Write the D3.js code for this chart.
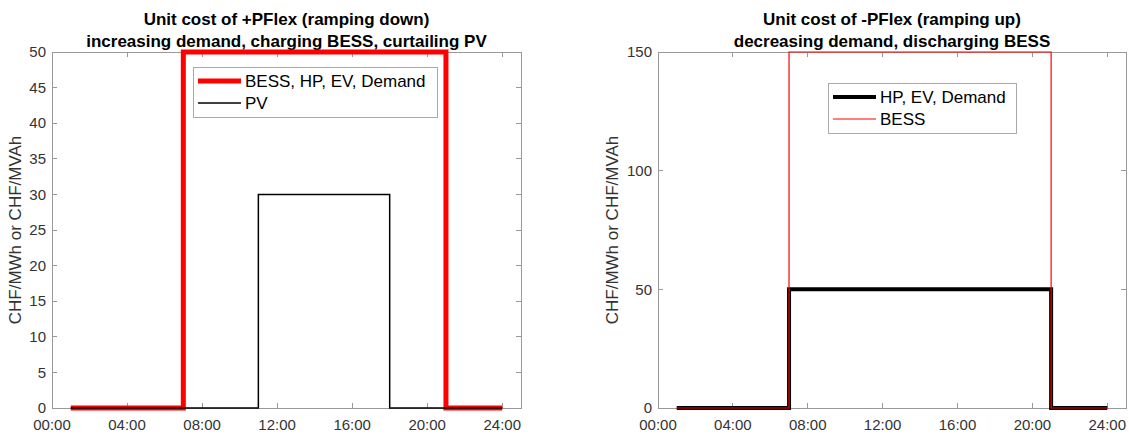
<!DOCTYPE html>
<html>
<head>
<meta charset="utf-8">
<script src="https://cdn.jsdelivr.net/npm/d3@7/dist/d3.min.js"></script>
<style>
  body { margin: 0; background: #fff; }
  svg { font-family: "Liberation Sans", Arial, sans-serif; }
</style>
</head>
<body>
<svg id="chart" width="1129" height="440"></svg>
<script>
// hourly steps, value held from hour h to h+1
var hours = [1, 2, 3, 4, 5, 6, 7, 8, 9, 10, 11, 12, 13, 14, 15, 16, 17, 18, 19, 20, 21, 22, 23, 24];

var posFlexBess = [0, 0, 0, 0, 0, 0, 50, 50, 50, 50, 50, 50, 50, 50, 50, 50, 50, 50, 50, 50, 0, 0, 0, 0];
var posFlexPV   = [0, 0, 0, 0, 0, 0, 0, 0, 0, 0, 30, 30, 30, 30, 30, 30, 30, 0, 0, 0, 0, 0, 0, 0];

var negFlexDemand = [0, 0, 0, 0, 0, 0, 50, 50, 50, 50, 50, 50, 50, 50, 50, 50, 50, 50, 50, 50, 0, 0, 0, 0];
var negFlexBess   = [0, 0, 0, 0, 0, 0, 150, 150, 150, 150, 150, 150, 150, 150, 150, 150, 150, 150, 150, 150, 0, 0, 0, 0];

var xTicks = [0, 4, 8, 12, 16, 20, 24];
var xTickLabels = ['00:00', '04:00', '08:00', '12:00', '16:00', '20:00', '24:00'];
var leftYTicks = [0, 5, 10, 15, 20, 25, 30, 35, 40, 45, 50];
var rightYTicks = [0, 50, 100, 150];

var yLabel = 'CHF/MWh or CHF/MVAh';
var axisGray = '#999';
var textGray = '#333';

var svg = d3.select('#chart');

function panel(opt) {
    var x = d3.scaleLinear().domain([0, 25]).range([opt.left, opt.right]);
    var y = d3.scaleLinear().domain([0, opt.yMax]).range([408, 52]);
    var g = svg.append('g');

    // box
    g.append('rect')
        .attr('x', x(0)).attr('y', y(opt.yMax))
        .attr('width', x(25) - x(0)).attr('height', y(0) - y(opt.yMax))
        .attr('fill', 'none').attr('stroke', axisGray).attr('shape-rendering', 'crispEdges');

    // ticks inside, on all four sides
    var tl = 5;
    xTicks.forEach(function (t) {
        g.append('line').attr('x1', x(t)).attr('x2', x(t)).attr('y1', y(0)).attr('y2', y(0) - tl)
            .attr('stroke', axisGray).attr('shape-rendering', 'crispEdges');
        g.append('line').attr('x1', x(t)).attr('x2', x(t)).attr('y1', y(opt.yMax)).attr('y2', y(opt.yMax) + tl)
            .attr('stroke', axisGray).attr('shape-rendering', 'crispEdges');
    });
    opt.yTicks.forEach(function (t) {
        g.append('line').attr('x1', x(0)).attr('x2', x(0) + tl).attr('y1', y(t)).attr('y2', y(t))
            .attr('stroke', axisGray).attr('shape-rendering', 'crispEdges');
        g.append('line').attr('x1', x(25)).attr('x2', x(25) - tl).attr('y1', y(t)).attr('y2', y(t))
            .attr('stroke', axisGray).attr('shape-rendering', 'crispEdges');
    });

    // tick labels
    g.selectAll('.xt').data(xTicks).enter().append('text')
        .attr('x', function (d) { return x(d); }).attr('y', 430)
        .attr('text-anchor', 'middle').attr('font-size', 15).attr('fill', textGray)
        .text(function (d, i) { return xTickLabels[i]; });
    g.selectAll('.yt').data(opt.yTicks).enter().append('text')
        .attr('x', x(0) - 6).attr('y', function (d) { return y(d); })
        .attr('dy', '0.35em')
        .attr('text-anchor', 'end').attr('font-size', 15).attr('fill', textGray)
        .text(function (d) { return d; });

    // y label
    g.append('text')
        .attr('transform', 'translate(' + opt.yLabelX + ',230) rotate(-90)')
        .attr('text-anchor', 'middle').attr('font-size', 17).attr('fill', textGray)
        .text(yLabel);

    // title
    opt.title.forEach(function (line, i) {
        g.append('text')
            .attr('x', (x(0) + x(25)) / 2).attr('y', 25 + i * 22)
            .attr('text-anchor', 'middle').attr('font-size', 17).attr('font-weight', 'bold')
            .attr('fill', '#000')
            .text(line);
    });

    // step lines
    var line = d3.line()
        .x(function (d) { return x(d[0]); })
        .y(function (d) { return y(d[1]); })
        .curve(d3.curveStepAfter);
    opt.series.forEach(function (s) {
        g.append('path')
            .datum(hours.map(function (h, i) { return [h, s.values[i]]; }))
            .attr('d', line)
            .attr('fill', 'none').attr('stroke', s.color).attr('stroke-width', s.width)
            .attr('stroke-linejoin', 'miter');
    });

    // legend
    var lg = g.append('g');
    lg.append('rect')
        .attr('x', opt.legend.x).attr('y', opt.legend.y)
        .attr('width', opt.legend.w).attr('height', 50)
        .attr('fill', '#fff').attr('stroke', '#aaa').attr('shape-rendering', 'crispEdges');
    opt.series.forEach(function (s, i) {
        var ly = opt.legend.y + 14 + i * 22;
        lg.append('line')
            .attr('x1', opt.legend.x + 5).attr('x2', opt.legend.x + 48)
            .attr('y1', ly).attr('y2', ly)
            .attr('stroke', s.color).attr('stroke-width', s.width);
        lg.append('text')
            .attr('x', opt.legend.x + 52).attr('y', ly).attr('dy', '0.35em')
            .attr('font-size', 17).attr('fill', '#000')
            .text(s.name);
    });
}

panel({
    left: 52, right: 521, yMax: 50, yTicks: leftYTicks, yLabelX: 21,
    title: ['Unit cost of +PFlex (ramping down)', 'increasing demand, charging BESS, curtailing PV'],
    legend: { x: 193, y: 67, w: 244 },
    series: [
        { name: 'BESS, HP, EV, Demand', values: posFlexBess, color: '#ff0000', width: 5 },
        { name: 'PV', values: posFlexPV, color: '#000', width: 1.5 }
    ]
});

panel({
    left: 658, right: 1126, yMax: 150, yTicks: rightYTicks, yLabelX: 618,
    title: ['Unit cost of -PFlex (ramping up)', 'decreasing demand, discharging BESS'],
    legend: { x: 828, y: 83, w: 188 },
    series: [
        { name: 'HP, EV, Demand', values: negFlexDemand, color: '#000', width: 4 },
        { name: 'BESS', values: negFlexBess, color: '#ff0000', width: 1.2 }
    ]
});
</script>
</body>
</html>
